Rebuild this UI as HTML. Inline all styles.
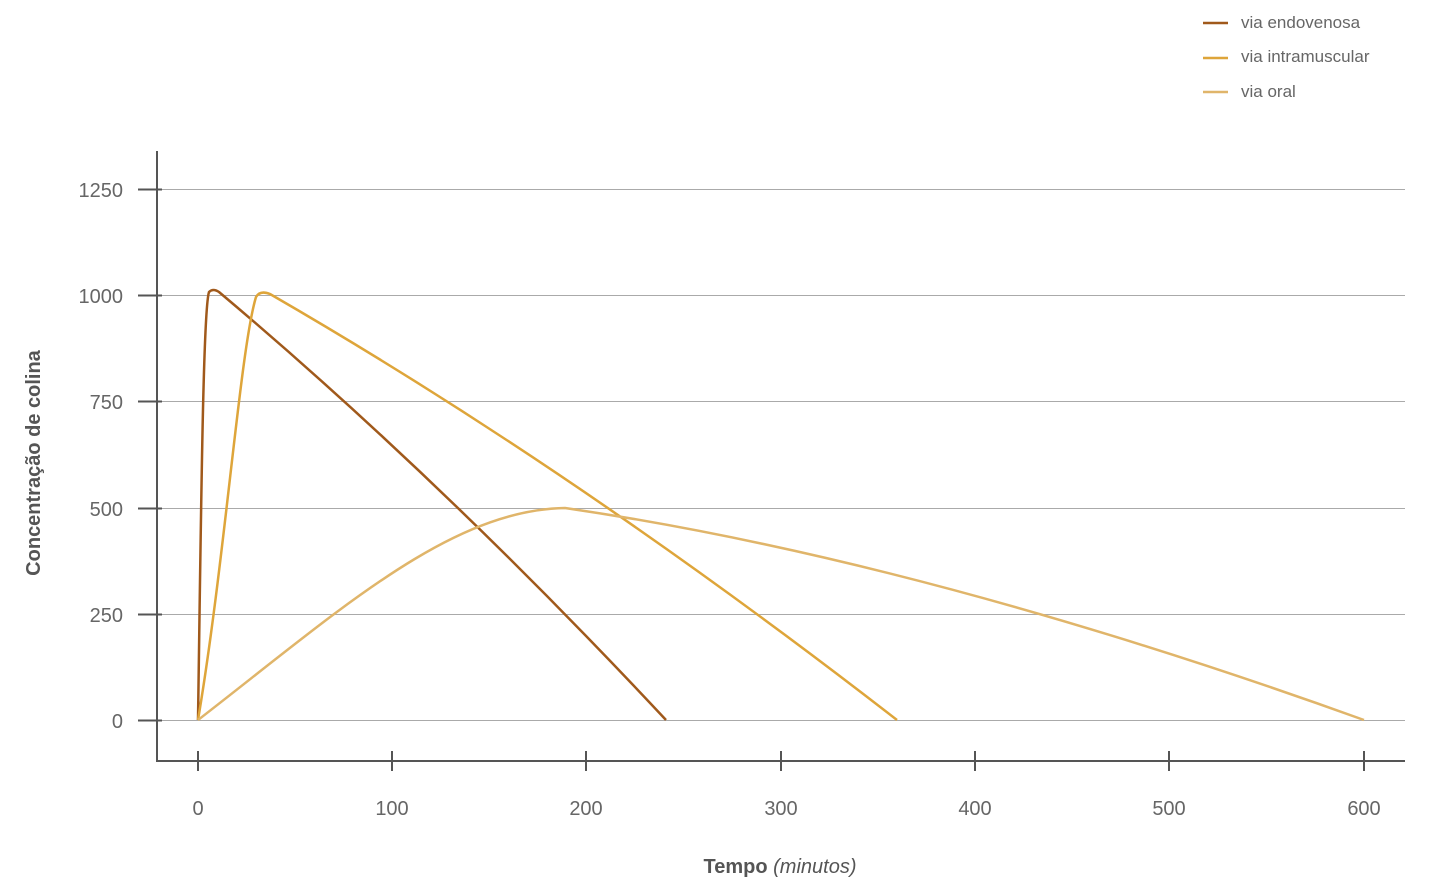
<!DOCTYPE html>
<html><head><meta charset="utf-8"><style>
html,body{margin:0;padding:0;background:#fff;}
svg{display:block;font-family:"Liberation Sans",sans-serif;}
</style></head><body>
<svg width="1442" height="888" viewBox="0 0 1442 888" xmlns="http://www.w3.org/2000/svg">
<g stroke="#aaa" stroke-width="1">
<line x1="157" y1="189.5" x2="1405" y2="189.5"/>
<line x1="157" y1="295.5" x2="1405" y2="295.5"/>
<line x1="157" y1="401.5" x2="1405" y2="401.5"/>
<line x1="157" y1="508.5" x2="1405" y2="508.5"/>
<line x1="157" y1="614.5" x2="1405" y2="614.5"/>
<line x1="157" y1="720.5" x2="1405" y2="720.5"/>
</g>
<g stroke="#555" stroke-width="2">
<line x1="157" y1="151" x2="157" y2="762"/>
<line x1="156" y1="761" x2="1405" y2="761"/>
<line x1="138" y1="189.5" x2="162" y2="189.5"/>
<line x1="138" y1="295.5" x2="162" y2="295.5"/>
<line x1="138" y1="401.5" x2="162" y2="401.5"/>
<line x1="138" y1="508.5" x2="162" y2="508.5"/>
<line x1="138" y1="614.5" x2="162" y2="614.5"/>
<line x1="138" y1="720.5" x2="162" y2="720.5"/>
<line x1="198" y1="751" x2="198" y2="771"/>
<line x1="392" y1="751" x2="392" y2="771"/>
<line x1="586" y1="751" x2="586" y2="771"/>
<line x1="781" y1="751" x2="781" y2="771"/>
<line x1="975" y1="751" x2="975" y2="771"/>
<line x1="1169" y1="751" x2="1169" y2="771"/>
<line x1="1364" y1="751" x2="1364" y2="771"/>
</g>
<g fill="#666" font-size="20" text-anchor="end">
<text x="123" y="197">1250</text>
<text x="123" y="303">1000</text>
<text x="123" y="409">750</text>
<text x="123" y="516">500</text>
<text x="123" y="622">250</text>
<text x="123" y="728">0</text>
</g>
<g fill="#666" font-size="20" text-anchor="middle">
<text x="198" y="815">0</text>
<text x="392" y="815">100</text>
<text x="586" y="815">200</text>
<text x="781" y="815">300</text>
<text x="975" y="815">400</text>
<text x="1169" y="815">500</text>
<text x="1364" y="815">600</text>
</g>
<text x="780" y="873" font-size="20" fill="#555" text-anchor="middle"><tspan font-weight="bold">Tempo</tspan>  <tspan font-style="italic">(minutos)</tspan></text>
<text transform="translate(40,463) rotate(-90)" font-size="20" font-weight="bold" fill="#555" text-anchor="middle">Concentração de colina</text>
<g fill="none" stroke-width="2.5">
<path d="M198,720 C201,520 203,310 209,292 Q213,288 219,292 Q440,478 666,720" stroke="#a0591b"/>
<path d="M198,720 C225,560 240,350 256,297 Q260,290 270,294 Q575,470 897,720" stroke="#dea53a"/>
<path d="M198,720 C340,610 450,510 565,508 Q920,560 1364,720" stroke="#e0b56a"/>
</g>
<g stroke-width="2.5">
<line x1="1203" y1="23" x2="1228" y2="23" stroke="#a0591b"/>
<line x1="1203" y1="58" x2="1228" y2="58" stroke="#dea53a"/>
<line x1="1203" y1="92" x2="1228" y2="92" stroke="#e0b56a"/>
</g>
<g fill="#666" font-size="17">
<text x="1241" y="28">via endovenosa</text>
<text x="1241" y="62">via intramuscular</text>
<text x="1241" y="97">via oral</text>
</g>
</svg>
</body></html>
